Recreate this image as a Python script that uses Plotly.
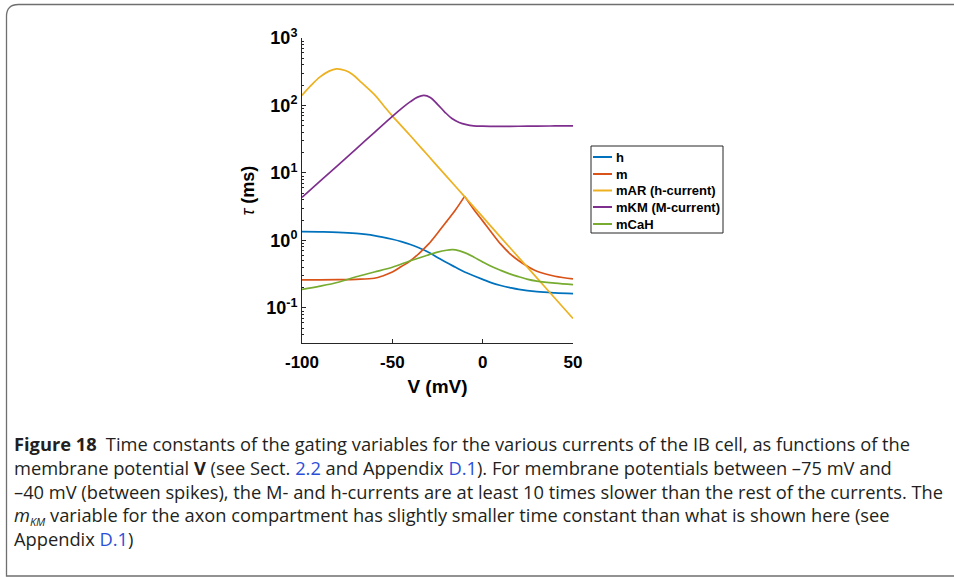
import plotly.graph_objects as go

# ---- data: membrane potential (mV) and time constants (ms) ----
v_h = [-100, -90, -80, -70, -60, -50, -45, -40, -35, -30, -25, -20, -15, -10, -5, 0, 5, 10, 15, 20, 30, 40, 50]
tau_h = [1.35, 1.34, 1.32, 1.27, 1.18, 1.04, 0.96, 0.87, 0.77, 0.67, 0.56, 0.47, 0.40, 0.34, 0.30, 0.265, 0.235, 0.215, 0.20, 0.188, 0.174, 0.167, 0.163]

# m has a sharp peak at -10 mV: rising and falling branches
v_m_rise = [-100, -90, -80, -70, -60, -55, -50, -45, -40, -35, -30, -25, -20, -15, -10]
tau_m_rise = [0.26, 0.26, 0.262, 0.265, 0.275, 0.30, 0.34, 0.41, 0.50, 0.65, 0.88, 1.28, 1.9, 2.85, 4.5]
v_m_fall = [-10, -5, 0, 5, 10, 15, 20, 25, 30, 40, 50]
tau_m_fall = [4.5, 2.9, 1.95, 1.3, 0.88, 0.64, 0.50, 0.41, 0.35, 0.295, 0.27]

v_mar = [-100, -95, -90, -85, -81, -76, -72, -67, -60, -55, -50, -40, -30, -20, -10, 0, 10, 20, 30, 40, 50]
tau_mar = [141, 198, 265, 323, 349, 330, 288, 218, 146, 101, 70, 35.6, 17.8, 8.9, 4.46, 2.23, 1.11, 0.557, 0.279, 0.139, 0.0697]

v_mkm = [-100, -90, -80, -70, -60, -50, -45, -40, -36, -32.5, -29, -25, -21, -17, -13, -9, -5, 0, 10, 20, 30, 40, 50]
tau_mkm = [4.35, 7.55, 13.1, 22.8, 39.6, 68.9, 90, 114, 133, 141, 131, 104, 80, 64, 56, 52, 50, 49.3, 49, 49.2, 49.5, 49.7, 49.9]

v_mcah = [-100, -90, -80, -70, -60, -50, -40, -30, -25, -20, -17, -15, -10, -5, 0, 5, 10, 15, 20, 25, 30, 40, 50]
tau_mcah = [0.188, 0.21, 0.24, 0.29, 0.34, 0.40, 0.50, 0.61, 0.67, 0.715, 0.73, 0.725, 0.66, 0.57, 0.48, 0.41, 0.36, 0.32, 0.29, 0.265, 0.25, 0.233, 0.222]

series_names = ["h", "m", "mAR (h-current)", "mKM (M-current)", "mCaH"]
series_colors = ["#0072BD", "#D95319", "#EDB120", "#7E2F8E", "#77AC30"]

x_ticks = [-100, -50, 0, 50]
y_ticks = [0.1, 1, 10, 100, 1000]
y_ticktext = ["10<sup>-1</sup>", "10<sup>0</sup>", "10<sup>1</sup>", "10<sup>2</sup>", "10<sup>3</sup>"]
y_minor = [m * 10.0 ** e for e in range(-2, 3) for m in range(2, 10)]

caption_lines = [
    "<b>Figure 18</b>\u2002Time constants of the gating variables for the various currents of the IB cell, as functions of the",
    "membrane potential <b>V</b> (see Sect. <span style='color:#2b50d8'>2.2</span> and Appendix "
    "<span style='color:#2b50d8'>D.1</span>). For membrane potentials between \u201375 mV and",
    "\u201340 mV (between spikes), the M- and h-currents are at least 10 times slower than the rest of the currents. The",
    "<i>m</i><sub><span style='font-size:11px'><i>KM</i></span></sub> variable for the axon compartment has slightly "
    "smaller time constant than what is shown here (see",
    "Appendix <span style='color:#2b50d8'>D.1</span>)",
]

# ---- page geometry (pixels) ----
W, H = 954, 577
L, R, T, B = 302, 573, 38, 343


def px(x):
    return (x - L) / (R - L)


def py(y):
    return (B - y) / (B - T)


def curve(vv, tt, color):
    return go.Scatter(x=vv, y=tt, mode="lines", showlegend=False,
                      line=dict(color=color, width=1.7, shape="spline", smoothing=1.0))


fig = go.Figure()
fig.add_trace(curve(v_h, tau_h, series_colors[0]))
fig.add_trace(curve(v_m_rise, tau_m_rise, series_colors[1]))
fig.add_trace(curve(v_m_fall, tau_m_fall, series_colors[1]))
fig.add_trace(curve(v_mar, tau_mar, series_colors[2]))
fig.add_trace(curve(v_mkm, tau_mkm, series_colors[3]))
fig.add_trace(curve(v_mcah, tau_mcah, series_colors[4]))

axis_color = "#262626"
fig.update_xaxes(range=[-100, 50], showgrid=False, zeroline=False, showline=True,
                 linecolor=axis_color, linewidth=1, ticks="inside", ticklen=4, tickcolor=axis_color,
                 tickvals=x_ticks, ticktext=[str(t) for t in x_ticks], ticklabelstandoff=4,
                 tickfont=dict(family="Liberation Sans", size=17, color="#000000", weight="bold"),
                 title=dict(text="V (mV)", standoff=8,
                            font=dict(family="Liberation Sans", size=19, color="#000000", weight="bold")))
fig.update_yaxes(type="log", range=[-1.52, 3], showgrid=False, zeroline=False, showline=True,
                 linecolor=axis_color, linewidth=1, ticks="inside", ticklen=4, tickcolor=axis_color,
                 tickvals=y_ticks, ticktext=y_ticktext,
                 minor=dict(tickvals=y_minor, ticks="inside", ticklen=2, tickcolor=axis_color, showgrid=False),
                 tickfont=dict(family="Liberation Sans", size=18, color="#000000", weight="bold"),
                 title=dict(text="<i>\u03c4</i> <b>(ms)</b>", standoff=6,
                            font=dict(family="Liberation Sans", size=18, color="#000000")))

shapes = []
annotations = []

# rounded frame around the figure
fx0, fy0, fx1, fy1, rad = 6.5, 4.5, 962, 576, 12
path = (f"M {px(fx0)},{py(fy1)} L {px(fx0)},{py(fy0 + rad)} "
        f"Q {px(fx0)},{py(fy0)} {px(fx0 + rad)},{py(fy0)} L {px(fx1)},{py(fy0)} "
        f"L {px(fx1)},{py(fy1)} Z")
shapes.append(dict(type="path", xref="paper", yref="paper", path=path,
                   line=dict(color="#6f6f6f", width=1.3)))

# legend box
lx0, ly0, lx1, ly1 = 591, 146, 723, 233
shapes.append(dict(type="rect", xref="paper", yref="paper", x0=px(lx0), x1=px(lx1),
                   y0=py(ly1), y1=py(ly0), line=dict(color="#262626", width=1), fillcolor="white"))
item_y = [157, 174, 190.5, 207, 224]
for name, color, yy in zip(series_names, series_colors, item_y):
    shapes.append(dict(type="line", xref="paper", yref="paper", x0=px(593), x1=px(612),
                       y0=py(yy), y1=py(yy), line=dict(color=color, width=2)))
    annotations.append(dict(xref="paper", yref="paper", x=px(614), y=py(yy), text=name,
                            showarrow=False, xanchor="left", yanchor="middle",
                            font=dict(family="Liberation Sans", size=13, color="#000000", weight="bold")))

# caption: one multi-line text block
annotations.append(dict(xref="paper", yref="paper", x=px(12), y=py(491), text="<br>".join(caption_lines),
                        showarrow=False, xanchor="left", yanchor="middle", align="left",
                        font=dict(family="Open Sans", size=18.3, color="#231f20")))

fig.update_layout(width=W, height=H, margin=dict(l=L, r=W - R, t=T, b=H - B),
                  paper_bgcolor="white", plot_bgcolor="white",
                  shapes=shapes, annotations=annotations, showlegend=False)

fig.write_html("out.html")
